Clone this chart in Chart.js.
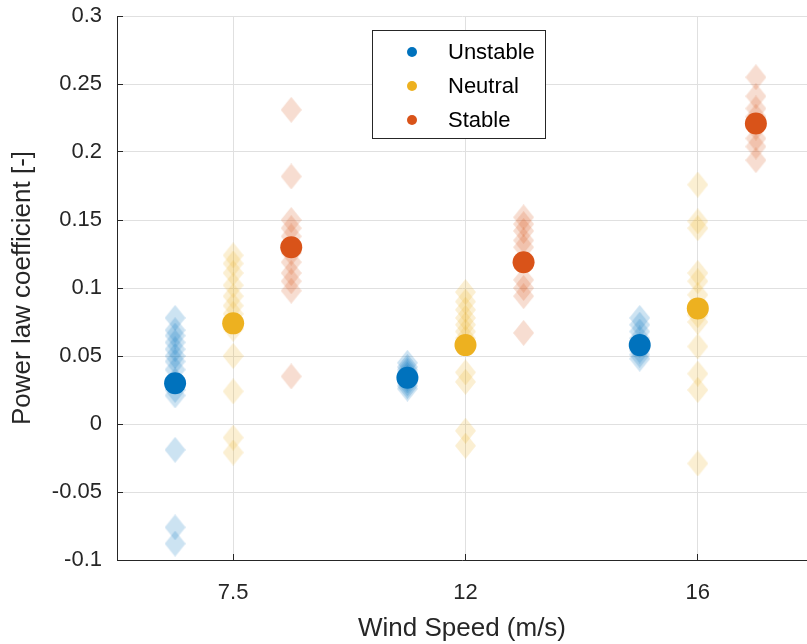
<!DOCTYPE html>
<html>
<head>
<meta charset="utf-8">
<script src="https://cdn.jsdelivr.net/npm/chart.js@4.4.1/dist/chart.umd.min.js"></script>
<style>
    body { margin: 0; background: #fff; }
    #graf { display: block; }
</style>
</head>
<body>
<canvas id="graf" width="807" height="644"></canvas>
<script>
// wind speed classes (x tick labels)
const speedLabels = ['7.5', '12', '16']

// individual runs, one list per wind speed
const unstableRuns = [
    [0.078, 0.069, 0.065, 0.060, 0.055, 0.050, 0.046, 0.040, 0.032, 0.025, 0.021, -0.019, -0.076, -0.088],
    [0.045, 0.042, 0.040, 0.038, 0.036, 0.034, 0.032, 0.030, 0.028, 0.026],
    [0.078, 0.073, 0.068, 0.063, 0.058, 0.054, 0.051, 0.048]
]
const neutralRuns = [
    [0.124, 0.118, 0.111, 0.102, 0.094, 0.087, 0.081, 0.070, 0.050, 0.024, -0.010, -0.021],
    [0.097, 0.090, 0.084, 0.078, 0.073, 0.068, 0.063, 0.038, 0.031, -0.005, -0.016],
    [0.176, 0.149, 0.144, 0.111, 0.105, 0.095, 0.080, 0.075, 0.057, 0.037, 0.025, -0.029]
]
const stableRuns = [
    [0.231, 0.182, 0.150, 0.144, 0.138, 0.126, 0.119, 0.111, 0.105, 0.098, 0.035],
    [0.152, 0.147, 0.142, 0.135, 0.130, 0.106, 0.100, 0.094, 0.067],
    [0.255, 0.241, 0.232, 0.226, 0.218, 0.210, 0.204, 0.194]
]

// averages per wind speed
const unstableMean = [0.030, 0.034, 0.058]
const neutralMean = [0.074, 0.058, 0.085]
const stableMean = [0.130, 0.119, 0.221]

const classes = [
    { label: 'Unstable', runs: unstableRuns, mean: unstableMean, rgb: '0,114,189', shift: -0.25 },
    { label: 'Neutral', runs: neutralRuns, mean: neutralMean, rgb: '237,177,32', shift: 0 },
    { label: 'Stable', runs: stableRuns, mean: stableMean, rgb: '217,83,25', shift: 0.25 }
]

const FONT = '"Liberation Sans", Arial, sans-serif'
const TXT = '#262626'

// matlab style diamond, a bit taller than wide
function diamond(rgb) {
    let c = document.createElement('canvas')
    c.width = 21
    c.height = 26
    let g = c.getContext('2d')
    g.fillStyle = 'rgba(' + rgb + ',0.2)'
    g.beginPath()
    g.moveTo(10.5, 0)
    g.lineTo(21, 13)
    g.lineTo(10.5, 26)
    g.lineTo(0, 13)
    g.closePath()
    g.fill()
    return c
}

let datasets = []

// mean markers first so they end up on top
classes.forEach(k => {
    datasets.push({
        label: k.label,
        data: k.mean.map((v, i) => ({ x: i + 1 + k.shift, y: v })),
        pointStyle: 'circle',
        pointRadius: 11,
        pointHoverRadius: 11,
        backgroundColor: 'rgb(' + k.rgb + ')',
        borderWidth: 0
    })
})

classes.forEach(k => {
    let pts = []
    k.runs.forEach((lista, i) => {
        lista.forEach(v => pts.push({ x: i + 1 + k.shift, y: v }))
    })
    datasets.push({
        label: k.label + ' runs',
        data: pts,
        pointStyle: diamond(k.rgb),
        pointRadius: 13,
        borderWidth: 0
    })
})

// legend box inside the axes
const boxLegend = {
    id: 'boxLegend',
    afterDraw(chart) {
        let ctx = chart.ctx
        let x0 = 372, y0 = 30, w = 173, h = 108
        ctx.save()
        ctx.fillStyle = '#fff'
        ctx.fillRect(x0, y0, w, h)
        ctx.strokeStyle = TXT
        ctx.lineWidth = 1
        ctx.strokeRect(x0 + 0.5, y0 + 0.5, w, h)
        let rows = [52, 86, 120]
        ctx.font = '22px ' + FONT
        ctx.textBaseline = 'middle'
        classes.forEach((k, i) => {
            ctx.fillStyle = 'rgb(' + k.rgb + ')'
            ctx.beginPath()
            ctx.arc(412, rows[i], 5, 0, Math.PI * 2)
            ctx.fill()
            ctx.fillStyle = '#000'
            ctx.fillText(k.label, 448, rows[i] + 1)
        })
        ctx.restore()
    }
}

let ctx = document.getElementById('graf').getContext('2d')

new Chart(ctx, {
    type: 'scatter',
    data: { datasets: datasets },
    options: {
        responsive: false,
        animation: false,
        layout: { autoPadding: false, padding: { top: 16, right: 0, bottom: 0, left: 0 } },
        plugins: {
            legend: { display: false },
            tooltip: { enabled: false }
        },
        scales: {
            x: {
                type: 'linear',
                min: 0.5,
                max: 3.47,
                afterFit: s => { s.height = 84; s.paddingLeft = 0; s.paddingRight = 0 },
                afterBuildTicks: s => { s.ticks = speedLabels.map((t, i) => ({ value: i + 1 })) },
                ticks: {
                    padding: 26,
                    color: TXT,
                    font: { family: FONT, size: 22 },
                    callback: (v, i) => speedLabels[i]
                },
                // inward tick marks like matlab
                grid: { color: '#e0e0e0', tickColor: TXT, tickLength: -6 },
                border: { color: TXT, width: 1 },
                title: {
                    display: true,
                    text: 'Wind Speed (m/s)',
                    color: TXT,
                    font: { family: FONT, size: 26 },
                    padding: { top: 0, bottom: 0 }
                }
            },
            y: {
                min: -0.1,
                max: 0.3,
                afterFit: s => { s.width = 117; s.paddingTop = 0; s.paddingBottom = 0 },
                ticks: {
                    stepSize: 0.05,
                    padding: 21,
                    color: TXT,
                    font: { family: FONT, size: 22 },
                    callback: v => String(Number(v.toFixed(2)))
                },
                grid: { color: '#e0e0e0', tickColor: TXT, tickLength: -6 },
                border: { color: TXT, width: 1 },
                title: {
                    display: true,
                    text: 'Power law coefficient [-]',
                    color: TXT,
                    font: { family: FONT, size: 26 },
                    padding: { top: 7, bottom: 0 }
                }
            }
        }
    },
    plugins: [boxLegend]
})
</script>
</body>
</html>
